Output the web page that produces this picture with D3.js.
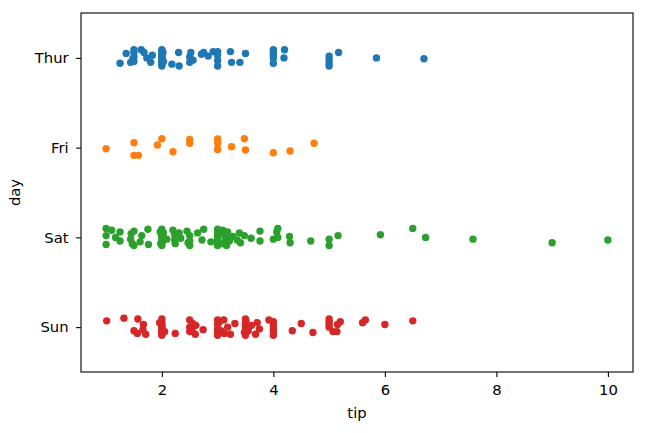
<!DOCTYPE html>
<html>
<head>
<meta charset="utf-8">
<script src="https://cdn.jsdelivr.net/npm/d3@7"></script>
<style>
  html, body { margin: 0; padding: 0; background: #fff; }
  svg { display: block; }
  text { font-family: "DejaVu Sans", sans-serif; fill: #000; }
</style>
</head>
<body>
<svg id="chart" width="645" height="433"></svg>
<script>
// ---------------- data ----------------
const days = ["Thur", "Fri", "Sat", "Sun"];
const xTicks = [2, 4, 6, 8, 10];
const colors = ["#1f77b4", "#ff7f0e", "#2ca02c", "#d62728"];

const thurTips = [1.25,1.36,1.44,1.48,1.50,1.50,1.50,1.50,1.63,1.68,1.73,1.80,1.83,
  2.00,2.00,2.00,2.00,2.00,2.00,2.00,2.00,2.00,2.00,2.00,2.00,2.00,2.01,2.02,2.03,
  2.18,2.30,2.31,2.50,2.50,2.52,2.56,2.71,2.75,2.83,2.92,3.00,3.00,3.00,3.00,
  3.23,3.25,3.40,3.50,4.00,4.00,4.00,4.00,4.00,4.19,4.20,5.00,5.00,5.00,5.00,5.17,5.85,6.70];
const thurJitter = [0.06,-0.05,0.05,0.01,-0.09,-0.01,0.04,-0.06,-0.09,-0.06,0.00,0.05,-0.03,
  -0.09,-0.07,-0.05,-0.03,-0.01,0.01,0.03,0.05,0.07,0.09,-0.08,0.00,0.06,0.02,-0.06,0.04,
  0.07,-0.06,0.09,-0.01,0.05,-0.06,0.025,-0.04,-0.06,-0.02,-0.07,-0.07,-0.03,0.03,0.09,
  -0.07,0.05,0.05,-0.05,-0.09,-0.06,-0.03,0.00,0.06,0.00,-0.09,-0.02,0.02,0.06,0.09,-0.06,0.00,0.01];

const friTips = [1.00,1.50,1.50,1.58,1.92,2.00,2.20,2.50,2.50,3.00,3.00,3.00,3.00,3.25,3.48,3.50,4.00,4.30,4.73];
const friJitter = [0.012,-0.055,0.086,0.086,-0.029,-0.099,0.046,-0.092,-0.048,-0.096,-0.051,0.016,0.021,-0.010,-0.099,0.027,0.057,0.038,-0.048];

const satTips = [1.00,1.00,1.00,1.10,1.17,1.25,1.25,1.44,1.45,1.47,1.50,1.50,1.61,1.64,1.75,1.76,
  1.97,1.98,2.00,2.00,2.00,2.00,2.00,2.00,2.00,2.00,2.00,2.01,2.03,2.09,
  2.20,2.23,2.23,2.24,2.31,2.34,2.45,2.47,2.50,2.50,2.50,2.64,2.72,2.75,2.88,
  3.00,3.00,3.00,3.00,3.00,3.00,3.00,3.00,3.00,3.00,
  3.07,3.08,3.09,3.14,3.15,3.16,3.18,3.21,3.27,3.35,3.39,3.41,3.48,3.60,3.76,3.76,
  4.00,4.06,4.08,4.08,4.29,4.30,4.67,5.00,5.00,5.16,5.92,6.50,6.73,7.58,9.00,10.00];
const satJitter = [-0.10,0.08,-0.02,-0.08,0.00,-0.06,0.04,0.02,-0.04,0.07,0.09,-0.07,0.05,-0.02,-0.09,0.08,
  -0.06,0.07,-0.09,-0.06,-0.03,0.00,0.03,0.05,0.07,0.09,-0.01,0.04,-0.05,0.02,
  -0.08,0.03,-0.03,0.07,-0.05,0.01,-0.07,0.06,-0.02,0.04,0.09,-0.05,0.03,-0.09,0.05,
  -0.09,-0.07,-0.05,-0.02,0.00,0.02,0.04,0.06,0.08,0.09,
  -0.04,0.07,-0.08,0.02,-0.03,0.09,-0.06,0.04,-0.01,0.03,-0.05,0.06,-0.02,0.01,-0.07,0.04,
  0.02,-0.06,-0.10,0.00,-0.01,0.06,0.04,0.02,0.09,-0.02,-0.03,-0.10,0.00,0.02,0.06,0.03];

const sunTips = [1.01,1.32,1.50,1.56,1.57,1.66,1.67,1.71,1.96,
  2.00,2.00,2.00,2.00,2.00,2.00,2.00,2.00,2.00,2.00,2.05,
  2.24,2.50,2.50,2.50,2.54,2.55,2.60,2.61,2.74,
  3.00,3.00,3.00,3.00,3.00,3.02,3.06,3.11,3.12,3.18,3.23,3.31,
  3.48,3.50,3.50,3.50,3.50,3.50,3.50,3.50,3.51,3.55,3.61,3.68,3.71,3.75,
  3.92,4.00,4.00,4.00,4.00,4.00,4.34,4.50,4.71,
  5.00,5.00,5.00,5.00,5.07,5.14,5.15,5.20,5.60,5.65,6.00,6.50];
const sunJitter = [-0.07,-0.10,0.04,0.07,-0.09,0.03,-0.03,0.08,-0.05,
  -0.09,-0.06,-0.03,0.00,0.02,0.04,0.06,0.08,0.09,-0.01,0.05,
  0.07,-0.08,0.00,0.05,0.03,-0.04,0.08,-0.02,0.03,
  -0.08,-0.03,0.02,0.06,0.09,-0.05,0.04,-0.08,0.07,0.00,0.08,-0.04,
  0.06,-0.09,-0.06,-0.03,0.00,0.03,0.06,0.09,-0.07,0.04,-0.02,0.08,-0.05,0.02,
  -0.08,-0.06,-0.02,0.02,0.05,0.09,0.04,-0.04,0.06,
  -0.09,-0.06,-0.03,0.00,0.05,0.05,-0.03,-0.06,-0.05,-0.08,-0.03,-0.07];

const seriesTips = [thurTips, friTips, satTips, sunTips];
const seriesJitter = [thurJitter, friJitter, satJitter, sunJitter];

// ---------------- layout ----------------
const W = 645, H = 433;
const L = 81, R = 633, T = 13, B = 372;
const font = 14.8;

const svg = d3.select("#chart");

const x = d3.scaleLinear().domain([0.55, 10.45]).range([L, R]);
const y = d3.scalePoint().domain(days).range([T, B]).padding(0.5);
const step = y.step();

// points
days.forEach((d, i) => {
  const pts = seriesTips[i].map((v, j) => ({ tip: v, jit: seriesJitter[i][j] }));
  svg.append("g")
    .selectAll("circle")
    .data(pts)
    .join("circle")
    .attr("cx", p => x(p.tip))
    .attr("cy", p => y(d) + p.jit * step)
    .attr("r", 3.7)
    .attr("fill", colors[i]);
});

// axes
const xAxis = d3.axisBottom(x).tickValues(xTicks).tickFormat(d3.format("d"))
  .tickSize(4.9).tickPadding(7.5);
const gx = svg.append("g").attr("transform", `translate(0,${B})`).call(xAxis);
gx.select(".domain").remove();
gx.selectAll("line").attr("stroke", "#000").attr("stroke-width", 1.1);
gx.selectAll("text").attr("font-size", font).attr("font-family", "DejaVu Sans").attr("fill", "#1a1a1a");

const yAxis = d3.axisLeft(y).tickSize(4.9).tickPadding(7.5);
const gy = svg.append("g").attr("transform", `translate(${L},0)`).call(yAxis);
gy.select(".domain").remove();
gy.selectAll("line").attr("stroke", "#000").attr("stroke-width", 1.1);
gy.selectAll("text").attr("font-size", font).attr("font-family", "DejaVu Sans").attr("fill", "#1a1a1a");

// frame
svg.append("rect")
  .attr("x", L).attr("y", T).attr("width", R - L).attr("height", B - T)
  .attr("fill", "none").attr("stroke", "#000").attr("stroke-width", 1.1);

// labels
svg.append("text")
  .attr("x", (L + R) / 2).attr("y", 418)
  .attr("text-anchor", "middle").attr("font-size", font).attr("fill", "#1a1a1a")
  .text("tip");
svg.append("text")
  .attr("transform", `translate(20,${(T + B) / 2}) rotate(-90)`)
  .attr("text-anchor", "middle").attr("font-size", font).attr("fill", "#1a1a1a")
  .text("day");
</script>
</body>
</html>
